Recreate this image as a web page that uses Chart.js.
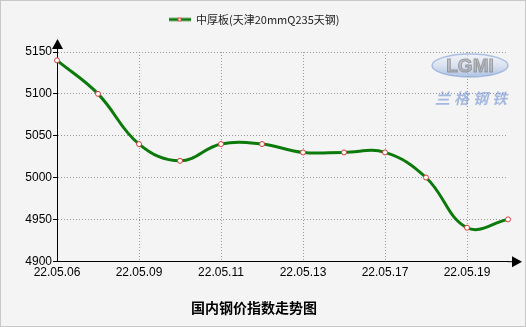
<!DOCTYPE html>
<html>
<head>
<meta charset="utf-8">
<script src="https://cdn.jsdelivr.net/npm/chart.js@4.4.0/dist/chart.umd.min.js"></script>
<style>
  body { margin: 0; background: #f4f4f4; }
  #wrap { width: 526px; height: 327px; }
</style>
</head>
<body>
<div id="wrap"><canvas id="steelChart" width="526" height="327"></canvas></div>
<script>
// data
const dates = ['22.05.06', '22.05.07', '22.05.09', '22.05.10', '22.05.11', '22.05.12',
               '22.05.13', '22.05.16', '22.05.17', '22.05.18', '22.05.19', '22.05.20'];
const prices = [5140, 5100, 5040, 5020, 5040, 5040, 5030, 5030, 5030, 5000, 4940, 4950];
const yMin = 4900;
const yMax = 5150;
const yStep = 50;
const seriesName = '中厚板(天津20mmQ235天钢)';
const chartTitle = '国内钢价指数走势图';
const logoName = 'LGMI';
const logoText = '兰格钢铁';

const lineColor = '#0b7a0b';
const markColor = '#d8393b';

// legend marker: green line with a small ringed square
const legendMark = document.createElement('canvas');
legendMark.width = 22;
legendMark.height = 6;
(() => {
  const c = legendMark.getContext('2d');
  c.fillStyle = lineColor;
  c.fillRect(0, 1.5, 22, 3);
  c.fillStyle = markColor;
  c.fillRect(9, 1, 4, 4);
  c.fillStyle = '#fff';
  c.fillRect(10, 2, 2, 2);
})();

// background, legend spacing, axis arrows and the watermark logo
const decor = {
  id: 'decor',
  beforeLayout(chart) {
    const lg = chart.legend;
    if (lg && !lg._spaced) {
      const fit = lg.fit;
      lg.fit = function () { fit.call(this); this.height += 17; };
      lg._spaced = true;
    }
  },
  beforeDraw(chart) {
    const ctx = chart.ctx;
    ctx.save();
    ctx.fillStyle = '#f4f4f4';
    ctx.fillRect(0, 0, chart.width, chart.height);
    ctx.strokeStyle = '#c8c8c8';
    ctx.strokeRect(0.5, 0.5, chart.width - 1, chart.height - 1);
    ctx.restore();
  },
  beforeDatasetsDraw(chart) {
    const ctx = chart.ctx;
    const a = chart.chartArea;
    const cx = a.right - 38, cy = a.top + 13.5;
    ctx.save();
    ctx.globalAlpha = 0.6;
    const g = ctx.createLinearGradient(0, cy - 12, 0, cy + 12);
    g.addColorStop(0, '#f2f5fb');
    g.addColorStop(0.5, '#c9d6ee');
    g.addColorStop(1, '#7f9fd6');
    ctx.fillStyle = g;
    ctx.strokeStyle = '#7f9fd6';
    ctx.lineWidth = 1.5;
    ctx.beginPath(); ctx.ellipse(cx, cy, 38, 11.5, 0, 0, Math.PI * 2); ctx.fill(); ctx.stroke();
    ctx.font = 'bold 19px "Liberation Sans", Arial, sans-serif';
    ctx.textAlign = 'center';
    ctx.textBaseline = 'middle';
    ctx.lineWidth = 1;
    ctx.fillStyle = '#a8a8a8';
    ctx.strokeStyle = '#777';
    ctx.fillText(logoName, cx, cy + 1);
    ctx.strokeText(logoName, cx, cy + 1);
    ctx.fillStyle = '#6f90d0';
    ctx.font = 'bold italic 15px "Noto Sans CJK SC", sans-serif';
    ctx.letterSpacing = '4px';
    ctx.fillText(logoText, cx + 3, cy + 33);
    ctx.restore();
  },
  afterDraw(chart) {
    const ctx = chart.ctx;
    const a = chart.chartArea;
    ctx.save();
    ctx.strokeStyle = '#000';
    ctx.fillStyle = '#000';
    ctx.lineWidth = 1;
    ctx.beginPath();
    ctx.moveTo(a.left + 0.5, a.top); ctx.lineTo(a.left + 0.5, a.top - 6);
    ctx.moveTo(a.right, a.bottom + 0.5); ctx.lineTo(a.right + 6, a.bottom + 0.5);
    ctx.stroke();
    ctx.beginPath();
    ctx.moveTo(a.left + 0.5, a.top - 13);
    ctx.lineTo(a.left - 5, a.top - 3);
    ctx.lineTo(a.left + 6, a.top - 3);
    ctx.closePath(); ctx.fill();
    ctx.beginPath();
    ctx.moveTo(a.right + 14, a.bottom + 0.5);
    ctx.lineTo(a.right + 4, a.bottom - 5);
    ctx.lineTo(a.right + 4, a.bottom + 6);
    ctx.closePath(); ctx.fill();
    ctx.restore();
  }
};

const tickFont = { family: '"Liberation Sans", Arial, sans-serif', size: 12 };

new Chart(document.getElementById('steelChart'), {
  type: 'line',
  data: {
    labels: dates,
    datasets: [{
      label: seriesName,
      data: prices,
      borderColor: lineColor,
      borderWidth: 3,
      tension: 0.4,
      pointRadius: 2.5,
      pointBorderWidth: 1,
      pointBorderColor: markColor,
      pointBackgroundColor: '#fff'
    }]
  },
  options: {
    responsive: false,
    animation: false,
    layout: { padding: { left: 0, right: 18, top: 4, bottom: 7 } },
    plugins: {
      tooltip: { enabled: false },
      legend: {
        position: 'top',
        labels: {
          usePointStyle: true,
          pointStyle: legendMark,
          pointStyleWidth: 22,
          color: '#222',
          font: { family: '"Noto Sans CJK SC", sans-serif', size: 11 },
          padding: 10
        }
      },
      title: {
        display: true,
        text: chartTitle,
        position: 'bottom',
        color: '#000',
        font: { family: '"Noto Sans CJK SC", sans-serif', size: 14, weight: 'bold' },
        padding: { top: 10, bottom: 4 }
      }
    },
    scales: {
      x: {
        offset: false,
        afterFit: s => { s.height = 28; },
        border: { display: true, color: '#000', width: 1, dash: [1, 2] },
        grid: { color: '#9a9a9a', drawTicks: false, lineWidth: 1 },
        ticks: {
          autoSkip: false,
          maxRotation: 0,
          padding: 4,
          color: '#000',
          font: tickFont,
          callback: (v, i) => (i % 2 === 0 ? dates[i] : null)
        }
      },
      y: {
        min: yMin,
        max: yMax,
        afterFit: s => { s.width = 57; },
        border: { display: true, color: '#000', width: 1, dash: [1, 2] },
        grid: { color: '#9a9a9a', tickColor: '#000', tickLength: 4, tickBorderDash: [] },
        ticks: { stepSize: yStep, padding: 1, color: '#000', font: tickFont, callback: v => String(v) }
      }
    }
  },
  plugins: [decor]
});
</script>
</body>
</html>
